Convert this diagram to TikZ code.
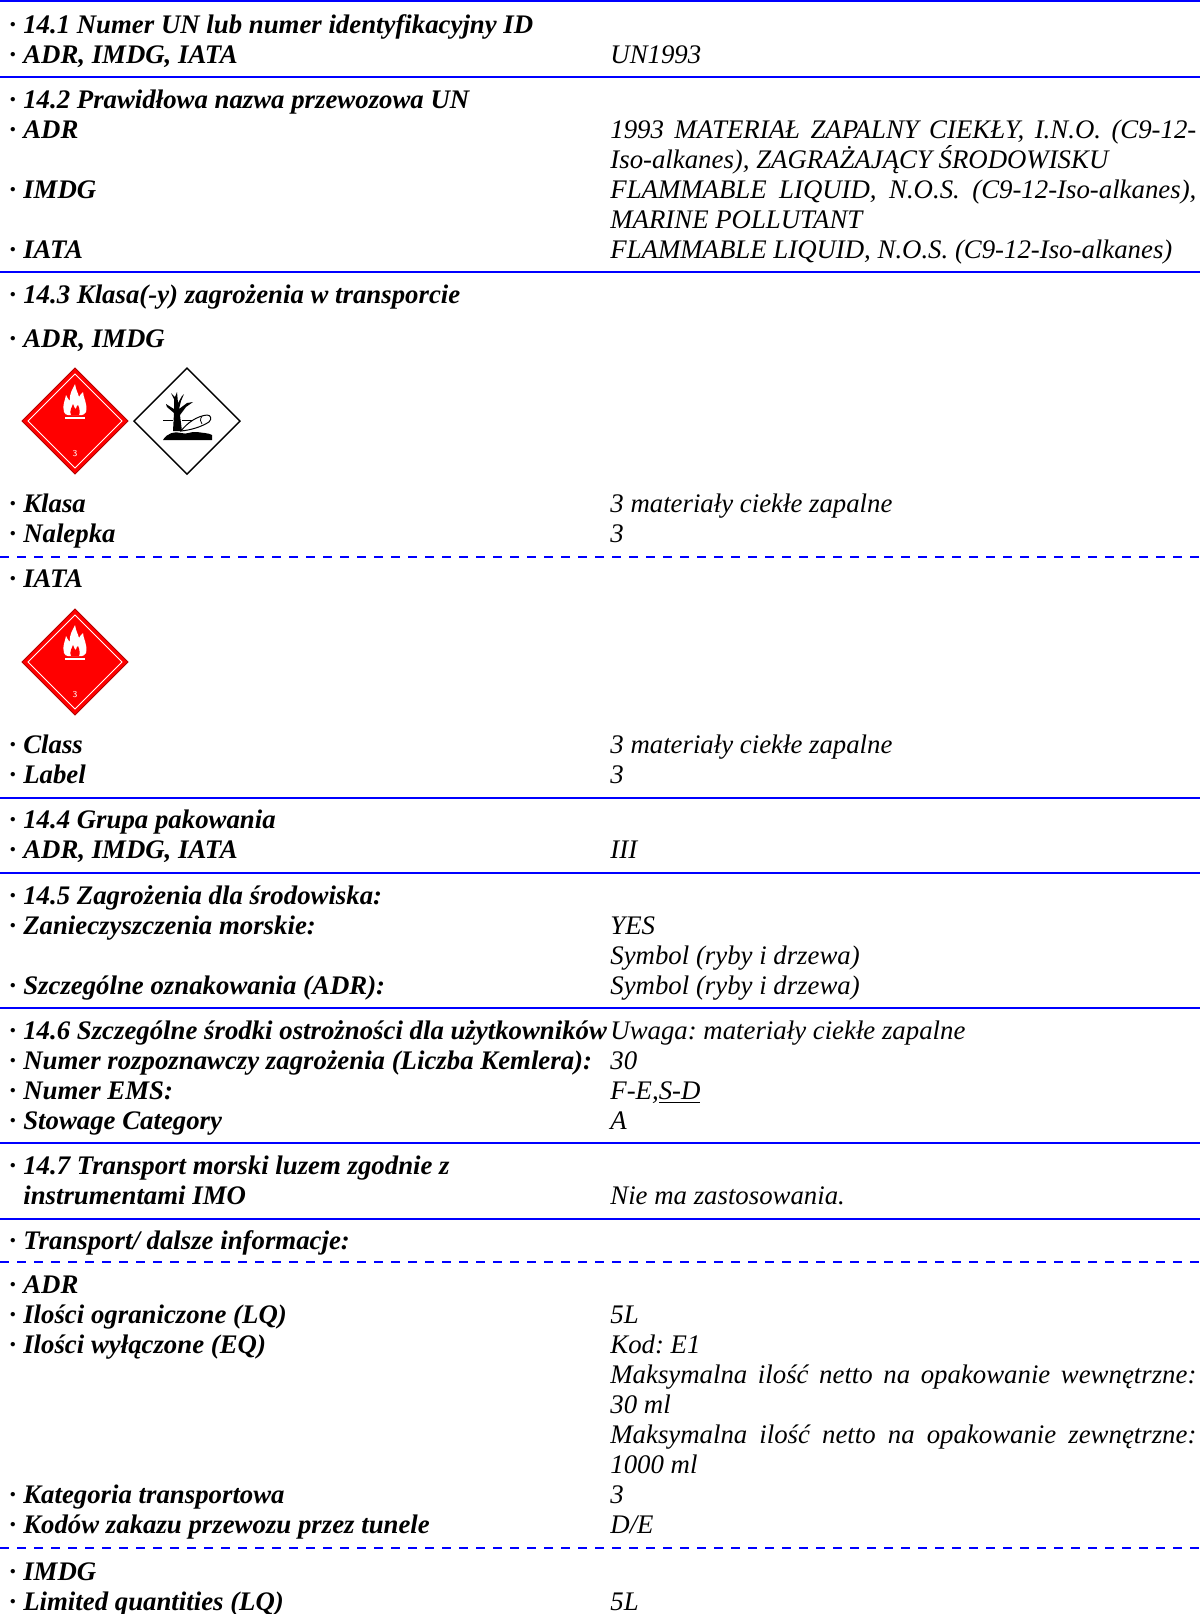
\documentclass[tikz,border=0pt]{standalone}
\usepackage{fontspec}
\setmainfont{Liberation Serif}
\usetikzlibrary{positioning}

\frenchspacing
\newcommand{\fullline}[1]{\makebox[293pt][s]{#1}}
\newcommand{\bul}{·\hspace{3.6pt}}

\tikzset{
  lab/.style={anchor=base west, inner sep=0pt, font=\fontsize{13.4}{15}\selectfont\bfseries\itshape},
  val/.style={anchor=base west, inner sep=0pt, font=\fontsize{13.4}{15}\selectfont\itshape},
  rule/.style={draw=blue, line width=1pt},
  dashrule/.style={draw=blue, line width=0.6pt, dash pattern=on 4.5pt off 4pt},
  redsign/.style={fill=red, draw=red!70!black, line width=0.5pt},
}

\begin{document}
\begin{tikzpicture}[x=0.5pt, y=-0.5pt]
\useasboundingbox (0,0) rectangle (1200,1614);

% poziome linie
\draw[rule] (0,1) -- (1200,1);
\draw[rule] (0,77) -- (1200,77);
\draw[rule] (0,272) -- (1200,272);
\draw[dashrule] (0,557) -- (1200,557);
\draw[rule] (0,798) -- (1200,798);
\draw[rule] (0,873) -- (1200,873);
\draw[rule] (0,1008) -- (1200,1008);
\draw[rule] (0,1143) -- (1200,1143);
\draw[rule] (0,1219) -- (1200,1219);
\draw[dashrule] (0,1262) -- (1200,1262);
\draw[dashrule] (0,1548) -- (1200,1548);

% 14.1
\node[lab] (h141) at (9,33) {\bul 14.1 Numer UN lub numer identyfikacyjny ID};
\node[lab] (all141) at (9,63) {\bul ADR, IMDG, IATA};
\node[val] (un141) at (610,63) {UN1993};

% 14.2
\node[lab] (h142) at (9,108) {\bul 14.2 Prawidłowa nazwa przewozowa UN};
\node[lab] (adr142) at (9,138) {\bul ADR};
\node[val] (adrv142) at (610,138) {\fullline{1993 MATERIAŁ ZAPALNY CIEKŁY, I.N.O. (C9-12-}};
\node[val] (adrw142) at (610,168) {Iso-alkanes), ZAGRAŻAJĄCY ŚRODOWISKU};
\node[lab] (imdg142) at (9,198) {\bul IMDG};
\node[val] (imdgv142) at (610,198) {\fullline{FLAMMABLE LIQUID, N.O.S. (C9-12-Iso-alkanes),}};
\node[val] (imdgw142) at (610,228) {MARINE POLLUTANT};
\node[lab] (iata142) at (9,258) {\bul IATA};
\node[val] (iatav142) at (610,258) {FLAMMABLE LIQUID, N.O.S. (C9-12-Iso-alkanes)};

% 14.3
\node[lab] (h143) at (9,303) {\bul 14.3 Klasa(-y) zagrożenia w transporcie};
\node[lab] (adr143) at (9,347) {\bul ADR, IMDG};

% nalepki: materiał zapalny
\foreach \cy in {421,662} {
  \begin{scope}[shift={(75,\cy)}]
    \filldraw[redsign] (0,-53) -- (53,0) -- (0,53) -- (-53,0) -- cycle;
    \draw[white, line width=0.5pt] (0,-47) -- (47,0) -- (0,47) -- (-47,0) -- cycle;
    \fill[white] (-11,-9) .. controls (-13,-16) and (-10,-20) .. (-9,-26)
      .. controls (-7,-22) and (-6,-21) .. (-5,-20)
      .. controls (-6,-28) and (-2,-32) .. (0,-37)
      .. controls (1,-31) and (3,-28) .. (4,-24)
      .. controls (5,-26) and (6,-27) .. (8,-29)
      .. controls (8,-24) and (13,-17) .. (11,-9)
      .. controls (10,-7) and (8,-6) .. (7,-6) -- (-7,-6)
      .. controls (-9,-6) and (-10,-7) .. cycle;
    \fill[red] (-4,-6) .. controls (-6,-10) and (-3,-14) .. (-2,-17)
      .. controls (-1,-14) and (0,-12) .. (1,-12)
      .. controls (1,-14) and (2,-15) .. (3,-16)
      .. controls (5,-12) and (5,-8) .. (4,-6) -- cycle;
    \fill[white] (-10,-4) rectangle (10,-2);
    \node[white, inner sep=0pt, font=\fontsize{4.5}{5}\selectfont\sffamily] at (0,33) {3};
  \end{scope}
}

% nalepka: środowisko (ryby i drzewa)
\begin{scope}[shift={(187,421)}]
  \filldraw[fill=white, draw=black, line width=0.7pt] (0,-53) -- (53,0) -- (0,53) -- (-53,0) -- cycle;
  \fill[black] (-14,10) -- (-13,-8) -- (-20,-14) -- (-21,-17) -- (-13,-12) -- (-13,-22)
    -- (-16,-28) -- (-12,-24) -- (-10,-29) -- (-9,-18) -- (-5,-25) -- (-3,-27) -- (-6,-20)
    -- (-8,-12) -- (0,-18) -- (6,-19) -- (-1,-14) -- (-7,-6) -- (-5,10) -- cycle;
  \draw[black, line width=0.5pt] (-24,-1) -- (-14,-1) (-5,-1) -- (15,-1);
  \filldraw[fill=white, draw=black, line width=0.5pt] (-6,10) .. controls (0,2) and (10,-5) .. (20,-6)
    .. controls (24,-6) and (25,-2) .. (22,1) .. controls (14,6) and (4,9) .. (-6,10) -- cycle;
  \draw[black, line width=0.4pt] (15,-5) .. controls (13,-2) and (13,1) .. (15,3);
  \fill[black] (-24,19) .. controls (-20,12) and (-12,10) .. (-6,12)
    .. controls (0,14) and (4,10) .. (10,11) .. controls (16,12) and (22,12) .. (25,14)
    -- (25,19) -- cycle;
\end{scope}

\node[lab] (klasa143) at (9,512) {\bul Klasa};
\node[val] (klasav143) at (610,512) {3 materiały ciekłe zapalne};
\node[lab] (nal143) at (9,542) {\bul Nalepka};
\node[val] (nalv143) at (610,542) {3};
\node[lab] (iata143) at (9,587) {\bul IATA};
\node[lab] (class143) at (9,753) {\bul Class};
\node[val] (classv143) at (610,753) {3 materiały ciekłe zapalne};
\node[lab] (label143) at (9,783) {\bul Label};
\node[val] (labelv143) at (610,783) {3};

% 14.4
\node[lab] (h144) at (9,828) {\bul 14.4 Grupa pakowania};
\node[lab] (all144) at (9,858) {\bul ADR, IMDG, IATA};
\node[val] (allv144) at (610,858) {III};

% 14.5
\node[lab] (h145) at (9,904) {\bul 14.5 Zagrożenia dla środowiska:};
\node[lab] (mor145) at (9,934) {\bul Zanieczyszczenia morskie:};
\node[val] (morv145) at (610,934) {YES};
\node[val] (morw145) at (610,964) {Symbol (ryby i drzewa)};
\node[lab] (ozn145) at (9,994) {\bul Szczególne oznakowania (ADR):};
\node[val] (oznv145) at (610,994) {Symbol (ryby i drzewa)};

% 14.6
\node[lab] (h146) at (9,1039) {\bul 14.6 Szczególne środki ostrożności dla użytkowników};
\node[val] (hv146) at (610,1039) {Uwaga: materiały ciekłe zapalne};
\node[lab] (kem146) at (9,1069) {\bul Numer rozpoznawczy zagrożenia (Liczba Kemlera):};
\node[val] (kemv146) at (610,1069) {30};
\node[lab] (ems146) at (9,1099) {\bul Numer EMS:};
\node[val] (emsv146) at (610,1099) {F-E,\underline{S-D}};
\node[lab] (sto146) at (9,1129) {\bul Stowage Category};
\node[val] (stov146) at (610,1129) {A};

% 14.7
\node[lab] (h147) at (9,1174) {\bul 14.7 Transport morski luzem zgodnie z};
\node[lab] (i147) at (9,1204) {\hphantom{\bul}instrumentami IMO};
\node[val] (iv147) at (610,1204) {Nie ma zastosowania.};

% dalsze informacje
\node[lab] (htr) at (9,1249) {\bul Transport/ dalsze informacje:};
\node[lab] (adrtr) at (9,1293) {\bul ADR};
\node[lab] (lqtr) at (9,1323) {\bul Ilości ograniczone (LQ)};
\node[val] (lqvtr) at (610,1323) {5L};
\node[lab] (eqtr) at (9,1353) {\bul Ilości wyłączone (EQ)};
\node[val] (eqvtr) at (610,1353) {Kod: E1};
\node[val] (eqwtr) at (610,1383) {\fullline{Maksymalna ilość netto na opakowanie wewnętrzne:}};
\node[val] (eqxtr) at (610,1413) {30 ml};
\node[val] (eqytr) at (610,1443) {\fullline{Maksymalna ilość netto na opakowanie zewnętrzne:}};
\node[val] (eqztr) at (610,1473) {1000 ml};
\node[lab] (kattr) at (9,1503) {\bul Kategoria transportowa};
\node[val] (katvtr) at (610,1503) {3};
\node[lab] (tuntr) at (9,1533) {\bul Kodów zakazu przewozu przez tunele};
\node[val] (tunvtr) at (610,1533) {D/E};
\node[lab] (imdgtr) at (9,1580) {\bul IMDG};
\node[lab] (lqitr) at (9,1610) {\bul Limited quantities (LQ)};
\node[val] (lqivtr) at (610,1610) {5L};

\end{tikzpicture}
\end{document}
